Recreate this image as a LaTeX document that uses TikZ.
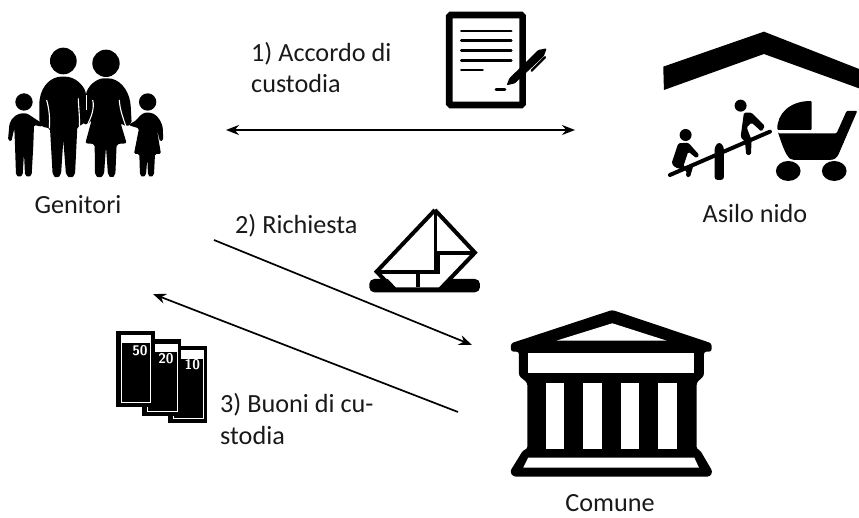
\documentclass[tikz,border=0pt]{standalone}
\usepackage{fontspec}
\setmainfont{Carlito}
\usetikzlibrary{arrows.meta}
\tikzset{
  lbl/.style={inner sep=0pt,anchor=base west,font=\fontsize{26.2}{30}\selectfont,text=black!90},
  clbl/.style={lbl,anchor=base},
  link/.style={line width=1.7pt,black},
}
\begin{document}
\begin{tikzpicture}[x=1pt,y=-1pt]
\useasboundingbox (0,0) rectangle (859,518);
% ---- family
\begin{scope}[x=0.3333pt,y=-0.3333pt,shift={(0,90)}]
 \fill (190,93) circle (40);
 \fill (318,100) circle (41);
 \fill (72,216) circle (26);
 \fill (443,216) circle (26);
 % father
 \fill[rounded corners=2pt] (118,275) -- (118,215) .. controls (125,165) and (155,140) .. (190,140) .. controls (225,140) and (250,165) .. (258,190) -- (262,270) -- (245,285) -- (232,290) -- (225,435) -- (212,445) -- (198,435) -- (190,330) -- (183,435) -- (170,445) -- (158,435) -- (150,295) -- (125,290) -- cycle;
 % mother
 \fill[rounded corners=2pt] (258,190) .. controls (270,160) and (295,145) .. (318,145) .. controls (355,145) and (385,175) .. (392,225) -- (395,280) -- (380,290) -- (362,280) -- (380,340) -- (350,342) -- (346,435) -- (335,445) -- (324,435) -- (318,350) -- (312,435) -- (298,445) -- (285,435) -- (284,342) -- (256,340) -- (275,270) -- (262,285) -- (248,280) -- cycle;
 % gaps in arms
 \draw[white,line width=1.1pt] (140,210) .. controls (148,240) and (150,265) .. (148,295);
 \draw[white,line width=1.1pt] (235,205) .. controls (236,240) and (240,265) .. (238,290);
 \draw[white,line width=0.8pt] (258,195) -- (258,240);
 \draw[white,line width=1.1pt] (278,210) .. controls (285,235) and (272,265) .. (262,285);
 \draw[white,line width=1.1pt] (358,210) .. controls (360,240) and (368,260) .. (378,290);
 % boy
 \fill[rounded corners=1.5pt] (24,330) -- (28,285) .. controls (35,260) and (55,250) .. (72,250) .. controls (85,250) and (105,268) .. (125,278) -- (135,285) -- (125,290) -- (102,285) -- (100,345) -- (95,435) -- (85,442) -- (75,435) -- (72,370) -- (68,435) -- (58,442) -- (48,435) -- (45,345) -- (43,295) -- (34,335) -- cycle;
 % girl
 \fill[rounded corners=1.5pt] (385,285) -- (410,270) .. controls (420,255) and (432,248) .. (443,248) .. controls (465,248) and (480,265) .. (488,290) -- (490,330) -- (480,335) -- (470,295) -- (483,372) -- (465,372) -- (462,435) -- (452,442) -- (444,435) -- (442,385) -- (438,435) -- (428,442) -- (420,435) -- (418,372) -- (402,372) -- (417,295) -- (400,290) -- cycle;
\end{scope}
% ---- document
\begin{scope}[x=0.3333pt,y=-0.3333pt,shift={(1290,0)}]
 \draw[line width=6.7pt,rounded corners=1.5pt] (58,45) rectangle (278,315);
 \foreach \yy in {93,122,151,181} \draw[line width=2.7pt,line cap=round] (94,\yy) -- (244,\yy);
 \draw[line width=2.7pt,line cap=round] (94,210) -- (158,210);
 \draw[line width=2.7pt,line cap=round] (198,268) -- (225,268);
 \draw[white,line width=1pt] (290,225) -- (345,165);
 \fill[rounded corners=1pt] (230,256) -- (238,235) -- (325,150) -- (350,145) -- (342,168) -- (255,250) -- cycle;
 \draw[line width=2.4pt,line cap=round] (305,212) -- (345,172);
\end{scope}
% ---- nursery
\begin{scope}[x=0.3333pt,y=-0.3333pt,shift={(1950,120)}]
 \fill (40,80) -- (342,-25) -- (630,88) -- (630,146) -- (342,42) -- (42,150) -- cycle;
 \draw[line width=4pt,line cap=round] (60,405) -- (360,275);
 \fill[rounded corners=3pt] (194,420) -- (194,320) -- (208,305) -- (222,320) -- (222,420) -- cycle;
 \fill (107,285) circle (18);
 \fill (272,197) circle (18);
 \fill[rounded corners=1.5pt] (85,310) -- (115,308) -- (148,345) -- (140,355) -- (115,335) -- (100,380) -- (130,378) -- (120,412) -- (108,410) -- (110,392) -- (75,382) -- (65,370) -- cycle;
 \fill[rounded corners=1.5pt] (282,218) -- (305,218) -- (345,258) -- (335,275) -- (305,248) -- (290,262) -- (305,300) -- (303,345) -- (289,345) -- (285,305) -- (272,292) -- cycle;
 \fill[rounded corners=1pt] (382,270) .. controls (382,220) and (420,183) .. (485,183) -- (485,270) -- cycle;
 \fill[rounded corners=1pt] (385,280) -- (560,280) -- (590,213) -- (622,213) -- (565,345) .. controls (555,360) and (545,360) .. (535,360) -- (435,360) .. controls (415,360) and (405,340) .. cycle;
 \fill (415,393) ellipse (37 and 30);
 \fill (553,393) ellipse (37 and 30);
\end{scope}
% ---- letter
\begin{scope}[x=0.3333pt,y=-0.3333pt,shift={(1080,600)}]
 \fill[rounded corners=5pt] (28,237) rectangle (360,277);
 \fill[white] (75,228) -- (108,262) -- (238,262) -- (275,228) -- cycle;
 \draw[line width=4pt,line join=miter] (225,30) -- (345,158) -- (240,268);
 \draw[line width=4pt] (225,30) -- (50,215) -- (95,262);
 \draw[line width=4pt] (50,215) -- (233,215) -- (233,158) -- (345,158);
 \draw[line width=3.3pt] (226,30) -- (226,215);
 \draw[line width=4pt] (175,222) -- (175,262);
\end{scope}
% ---- vouchers
\begin{scope}[x=0.3333pt,y=-0.3333pt,shift={(300,960)}]
 \foreach \xa/\ya/\va/\tx/\ty in {205/78/10/277/135,127/58/20/198/115,48/32/50/120/92}{
   \fill (\xa,\ya) rectangle ++(117,230);
   \draw[white,line width=0.9pt] (\xa+15,\ya+14) rectangle ++(89,202);
   \fill[white] (\xa+15,\ya+14) rectangle ++(89,24);
   \node[white,font=\sffamily\bfseries\fontsize{14}{14}\selectfont,inner sep=0pt] (v\va) at (\tx,\ty) {\va};
 }
\end{scope}
% ---- town hall
\begin{scope}[x=0.3333pt,y=-0.3333pt,shift={(1500,900)}]
 \fill[rounded corners=2.5pt] (337,30) -- (635,130) -- (635,155) -- (612,155) -- (612,228) -- (590,248) -- (590,448) -- (600,450) -- (638,515) -- (630,530) -- (40,530) -- (30,515) -- (70,450) -- (82,448) -- (82,248) -- (57,228) -- (57,155) -- (33,155) -- (33,130) -- cycle;
 \fill[white] (170,122) -- (337,70) -- (500,122) -- cycle;
 \fill[white] (85,158) rectangle (583,220);
 \foreach \xx in {137,250,362,475} \fill[white] (\xx,248) rectangle ++(56,200);
 \fill[white] (85,473) -- (583,473) -- (597,503) -- (70,503) -- cycle;
\end{scope}
% ---- labels
\node[clbl] (genitori) at (78,214) {Genitori};
\node[clbl] (asilo) at (755,223) {Asilo nido};
\node[clbl] (comune) at (610,511) {Comune};
\node[lbl] (l1a) at (251,62) {1) Accordo di};
\node[lbl] (l1b) at (251,93) {custodia};
\node[lbl] (l2) at (235,234) {2) Richiesta};
\node[lbl] (l3a) at (220,412) {3) Buoni di cu-};
\node[lbl] (l3b) at (220,444) {stodia};
% ---- connectors
\coordinate (a1) at (226,130);
\coordinate (a2) at (575,130);
\coordinate (b1) at (214,240);
\coordinate (b2) at (472,345);
\coordinate (c1) at (458,412);
\coordinate (c2) at (153,294);
\draw[link,{Stealth[length=13pt,width=10pt]}-{Stealth[length=13pt,width=10pt]}] (a1) -- (a2);
\draw[link,-{Stealth[length=13pt,width=10pt]}] (b1) -- (b2);
\draw[link,-{Stealth[length=13pt,width=10pt]}] (c1) -- (c2);
\end{tikzpicture}
\end{document}
